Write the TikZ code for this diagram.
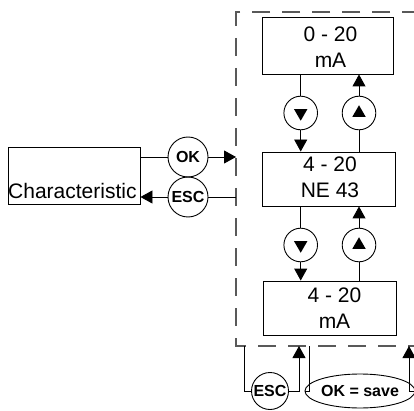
\documentclass[tikz,border=0pt]{standalone}
\usepackage{fontspec}
\setmainfont{Liberation Sans}
\usetikzlibrary{arrows.meta,shapes.geometric}
\begin{document}
\begin{tikzpicture}[x=1pt,y=-1pt,
  box/.style={draw,line width=0.9pt,rectangle,inner sep=0pt},
  boxtext/.style={font=\fontsize{21}{25.5}\selectfont,align=center,inner sep=0pt},
  key/.style={draw,circle,line width=0.9pt,minimum size=33.6pt,inner sep=0pt},
  bkey/.style={draw,circle,line width=0.9pt,inner sep=0pt,font=\fontsize{16}{16}\selectfont\bfseries},
  tri/.style={regular polygon,regular polygon sides=3,fill=black,draw=none,inner sep=0pt,minimum size=15.5pt},
  conn/.style={line width=0.9pt},
  arr/.style={line width=0.9pt,-{Triangle[length=12pt,width=13pt]}},
  frame/.style={draw=black!65,line width=1.3pt,dash pattern=on 18pt off 12pt}
]
\useasboundingbox (0,0) rectangle (414,411);

% dashed frame
\coordinate (fTL) at (236,12);
\coordinate (fBL) at (236,346);
\coordinate (fTR) at (420,12);
\coordinate (fBR) at (420,346);
\draw[frame] (fTR) -- (fTL) -- (fBL) -- (fBR);

% boxes
\node[box,minimum width=131pt,minimum height=57pt] (b1) at (327.5,45.5) {};
\node[box,minimum width=133pt,minimum height=54pt] (b2) at (328.5,179) {};
\node[box,minimum width=133pt,minimum height=54pt] (b3) at (329.5,308) {};
\node[boxtext] (t1) at (330.5,47) {0 - 20\\mA};
\node[boxtext] (t2) at (330,177.5) {4 - 20\\NE 43};
\node[boxtext] (t3) at (334.5,308) {4 - 20\\mA};

% up/down keys
\node[key] (d1) at (300.7,113) {};
\node[key] (u1) at (359,113) {};
\node[key] (d2) at (300.7,245) {};
\node[key] (u2) at (359,245) {};
\node[tri,shape border rotate=180] (d1i) at (d1) {};
\node[tri] (u1i) at (u1) {};
\node[tri,shape border rotate=180] (d2i) at (d2) {};
\node[tri] (u2i) at (u2) {};

\draw[conn] (b1.south -| d1) -- (d1);
\draw[arr] (d1) -- (d1 |- b2.north);
\draw[conn] (u1 |- b2.north) -- (u1);
\draw[arr] (u1) -- (u1 |- b1.south);
\draw[conn] (b2.south -| d2) -- (d2);
\draw[arr] (d2) -- (d2 |- b3.north);
\draw[conn] (u2 |- b3.north) -- (u2);
\draw[arr] (u2) -- (u2 |- b2.south);

% Characteristic
\node[box,minimum width=132pt,minimum height=56.5pt] (ch) at (74,176) {};
\node[font=\fontsize{21}{21}\selectfont,anchor=base west,inner sep=0pt] (cht) at (8,199) {Characteristic};
\node[bkey,minimum size=40pt] (ok) at (188,157) {OK};
\node[bkey,minimum size=40pt] (esc) at (188,197) {ESC};
\coordinate (okIn) at (236,157);
\coordinate (escOut) at (236,197);
\draw[conn] (ch.east |- ok) -- (ok);
\draw[arr] (ok) -- (okIn);
\draw[conn] (escOut) -- (esc);
\draw[arr] (esc) -- (ch.east |- esc);

% bottom keys
\node[bkey,minimum size=37pt] (esc2) at (270,391) {ESC};
\node[bkey,ellipse,minimum width=92pt,minimum height=34pt] (save) at (360,391) {OK = save};
\coordinate (p1) at (244.5,346);
\coordinate (q1) at (299,346);
\coordinate (p2) at (309,346);
\coordinate (q2) at (409,346);
\draw[conn] (p1) |- (esc2);
\draw[arr] (esc2) -| (q1);
\draw[conn] (p2) |- (save);
\draw[arr] (save) -| (q2);
\end{tikzpicture}
\end{document}
